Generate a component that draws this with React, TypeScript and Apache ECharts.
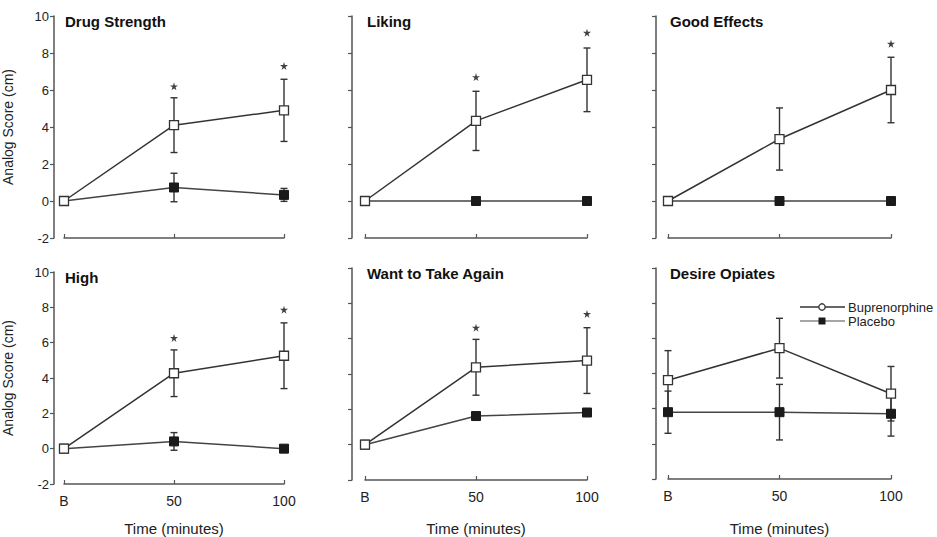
import React, { useEffect, useRef } from "react";
import * as echarts from "echarts";

// ---- data ----
const xValues = [0, 50, 100];
const xLabels = ["B", "50", "100"];
const panelTitles = ["Drug Strength", "Liking", "Good Effects", "High", "Want to Take Again", "Desire Opiates"];

const bupMean = [
  [0, 4.1, 4.9],
  [0, 4.33, 6.55],
  [0, 3.35, 6.0],
  [0, 4.27, 5.26],
  [0, 4.38, 4.76],
  [3.62, 5.44, 2.85],
];
const bupErr = [
  [0, 1.48, 1.68],
  [0, 1.6, 1.72],
  [0, 1.68, 1.77],
  [0, 1.32, 1.86],
  [0, 1.58, 1.86],
  [1.68, 1.7, 1.55],
];
const plaMean = [
  [0, 0.73, 0.33],
  [0, 0, 0],
  [0, 0, 0],
  [0, 0.41, 0],
  [0, 1.62, 1.82],
  [1.8, 1.8, 1.71],
];
const plaErr = [
  [0, 0.77, 0.35],
  [0, 0, 0],
  [0, 0, 0],
  [0, 0.5, 0],
  [0, 0, 0],
  [1.2, 1.58, 1.27],
];
const starY: (number | null)[][] = [
  [null, 6.2, 7.3],
  [null, 6.7, 9.1],
  [null, null, 8.5],
  [null, 6.27, 7.87],
  [null, 6.62, 7.4],
  [null, null, null],
];
const yTicks = { min: -2, max: 10, interval: 2 };
const seriesNames = ["Buprenorphine", "Placebo"];

// ---- layout ----
const colLeft = [63, 365, 668];
const colWidth = [221, 222, 223];
const colOffset = [10, 13, 12];
const panelTop = [16, 16, 16, 272, 268, 268];
const panelHeight = [222, 222, 222, 221, 221, 220];

const FONT = "'Liberation Sans', Arial, Helvetica, sans-serif";
const TEXT = "#222";
const AXIS = "#555";
const STAR_PATH =
  "path://M50,0 L61,35 L98,35 L68,57 L79,91 L50,70 L21,91 L32,57 L2,35 L39,35 Z";

function errorBarItem(params: any, api: any) {
  const x = api.value(0);
  const m = api.value(1);
  const e = api.value(2);
  if (!(e > 0)) return null;
  const top = api.coord([x, m + e]);
  const bot = api.coord([x, m - e]);
  const c = 3.5;
  const style = { stroke: "#333", lineWidth: 1.4 };
  return {
    type: "group",
    children: [
      { type: "line", shape: { x1: top[0], y1: top[1], x2: bot[0], y2: bot[1] }, style },
      { type: "line", shape: { x1: top[0] - c, y1: top[1], x2: top[0] + c, y2: top[1] }, style },
      { type: "line", shape: { x1: bot[0] - c, y1: bot[1], x2: bot[0] + c, y2: bot[1] }, style },
    ],
  };
}

function buildOption() {
  const grid: any[] = [];
  const xAxis: any[] = [];
  const yAxis: any[] = [];
  const series: any[] = [];
  const title: any[] = [];

  for (let p = 0; p < 6; p++) {
    const col = p % 3;
    const row = Math.floor(p / 3);
    grid.push({
      left: colLeft[col],
      width: colWidth[col],
      top: panelTop[p],
      height: panelHeight[p],
      containLabel: false,
    });
    xAxis.push({
      type: "value",
      gridIndex: p,
      min: 0,
      max: 100,
      interval: 50,
      axisLine: { show: true, onZero: false, lineStyle: { color: AXIS, width: 1.5 } },
      axisTick: { show: true, inside: true, length: 4, lineStyle: { color: AXIS, width: 1.2 } },
      splitLine: { show: false },
      axisLabel: {
        show: row === 1,
        margin: 10,
        color: TEXT,
        fontSize: 14,
        fontFamily: FONT,
        formatter: (v: number) => {
          const i = xValues.indexOf(v);
          return i >= 0 ? xLabels[i] : "";
        },
      },
      name: row === 1 ? "Time (minutes)" : "",
      nameLocation: "middle",
      nameGap: row === 1 ? 530 - (panelTop[p] + panelHeight[p]) : 0,
      nameTextStyle: { color: TEXT, fontSize: 15, fontFamily: FONT },
    });
    yAxis.push({
      type: "value",
      gridIndex: p,
      min: yTicks.min,
      max: yTicks.max,
      interval: yTicks.interval,
      offset: colOffset[col],
      axisLine: { show: true, onZero: false, lineStyle: { color: AXIS, width: 1.5 } },
      axisTick: { show: true, inside: false, length: 4, lineStyle: { color: AXIS, width: 1.2 } },
      splitLine: { show: false },
      axisLabel: { show: col === 0, margin: 5, color: TEXT, fontSize: 13, fontFamily: FONT },
      name: col === 0 ? "Analog Score (cm)" : "",
      nameLocation: "middle",
      nameRotate: 90,
      nameGap: 39,
      nameTextStyle: { color: TEXT, fontSize: 14, fontFamily: FONT },
    });
    title.push({
      text: panelTitles[p],
      left: colLeft[col] + 2,
      top: panelTop[p] - 2,
      padding: 0,
      textStyle: { color: "#111", fontSize: 15, fontWeight: "bold", fontFamily: FONT },
    });

    // error bars
    series.push({
      type: "custom",
      xAxisIndex: p,
      yAxisIndex: p,
      z: 1,
      clip: false,
      renderItem: errorBarItem,
      data: xValues.map((x, i) => [x, plaMean[p][i], plaErr[p][i]]),
    });
    series.push({
      type: "custom",
      xAxisIndex: p,
      yAxisIndex: p,
      z: 1,
      clip: false,
      renderItem: errorBarItem,
      data: xValues.map((x, i) => [x, bupMean[p][i], bupErr[p][i]]),
    });
    // placebo
    series.push({
      type: "line",
      name: seriesNames[1],
      xAxisIndex: p,
      yAxisIndex: p,
      z: 3,
      clip: false,
      symbol: "rect",
      symbolSize: 9,
      lineStyle: { color: "#444", width: 1.5 },
      itemStyle: { color: "#1a1a1a", borderColor: "#1a1a1a", borderWidth: 1 },
      data: xValues.map((x, i) => [x, plaMean[p][i]]),
    });
    // buprenorphine
    series.push({
      type: "line",
      name: seriesNames[0],
      xAxisIndex: p,
      yAxisIndex: p,
      z: 4,
      clip: false,
      symbol: "rect",
      symbolSize: 9,
      lineStyle: { color: "#333", width: 1.5 },
      itemStyle: { color: "#fff", borderColor: "#333", borderWidth: 1.3 },
      data: xValues.map((x, i) => [x, bupMean[p][i]]),
    });
    // significance stars
    series.push({
      type: "scatter",
      xAxisIndex: p,
      yAxisIndex: p,
      z: 5,
      clip: false,
      symbol: STAR_PATH,
      symbolSize: 8,
      itemStyle: { color: "#111" },
      data: xValues
        .map((x, i) => (starY[p][i] == null ? null : [x, starY[p][i]]))
        .filter((d) => d !== null),
    });
  }

  const legendX = 800;
  const graphic: any[] = [
    { type: "line", shape: { x1: legendX, y1: 307, x2: legendX + 45, y2: 307 }, style: { stroke: "#333", lineWidth: 1.5 } },
    { type: "circle", shape: { cx: legendX + 22, cy: 307, r: 3.2 }, style: { fill: "#fff", stroke: "#333", lineWidth: 1.3 } },
    { type: "text", x: legendX + 48, y: 307, style: { text: seriesNames[0], fill: TEXT, fontSize: 13, fontFamily: FONT, verticalAlign: "middle" } },
    { type: "line", shape: { x1: legendX, y1: 321, x2: legendX + 45, y2: 321 }, style: { stroke: "#888", lineWidth: 1.5 } },
    { type: "rect", shape: { x: legendX + 18.5, y: 317.5, width: 7, height: 7 }, style: { fill: "#1a1a1a" } },
    { type: "text", x: legendX + 48, y: 321, style: { text: seriesNames[1], fill: TEXT, fontSize: 13, fontFamily: FONT, verticalAlign: "middle" } },
  ];

  return {
    animation: false,
    backgroundColor: "#fff",
    title,
    grid,
    xAxis,
    yAxis,
    series,
    graphic,
  };
}

export default function App() {
  const ref = useRef<HTMLDivElement>(null);
  useEffect(() => {
    if (!ref.current) return;
    const chart = echarts.init(ref.current, undefined, { renderer: "svg" });
    chart.setOption(buildOption() as any);
    return () => chart.dispose();
  }, []);
  return (
    <div
      ref={ref}
      style={{ position: "absolute", left: 0, top: 0, width: 937, height: 537 }}
    />
  );
}
